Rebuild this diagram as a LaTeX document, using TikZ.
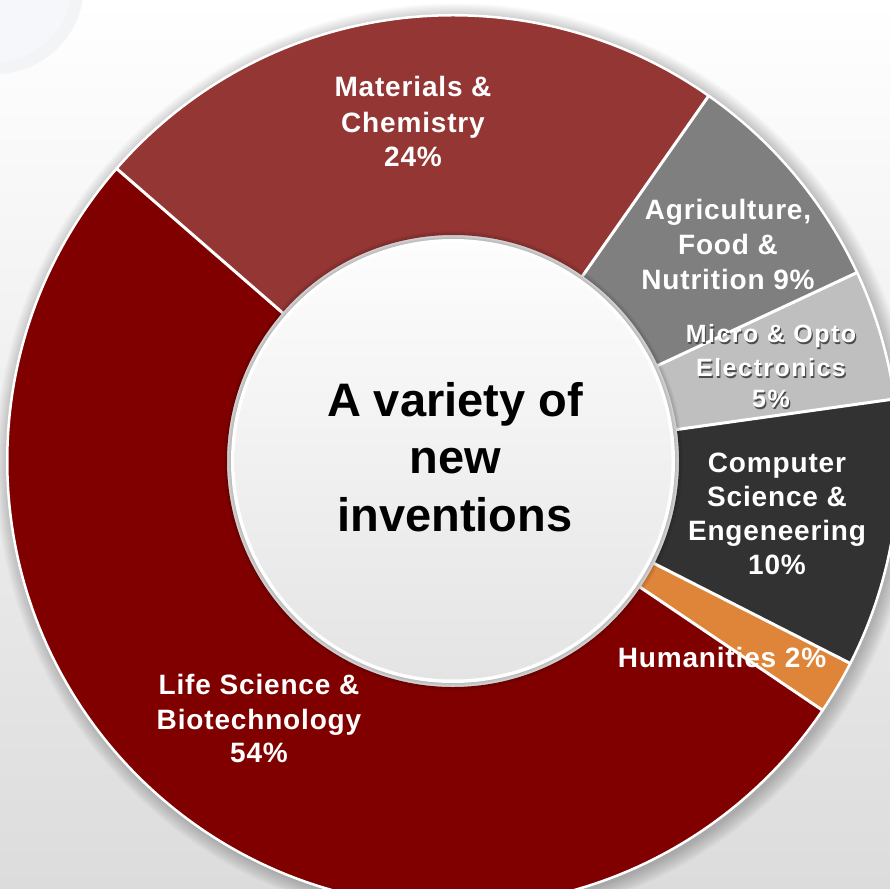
\documentclass[tikz,border=0pt]{standalone}
\usepackage{fontspec}
\setmainfont{Liberation Sans}
\definecolor{bgbot}{HTML}{DCDCDC}
\definecolor{bgmid}{HTML}{EFEFEF}
\definecolor{ringcol}{HTML}{F3F4F6}
\definecolor{ringin}{HTML}{F5F7FA}
\definecolor{matcol}{HTML}{943634}
\definecolor{lifecol}{HTML}{800000}
\definecolor{agrcol}{HTML}{7F7F7F}
\definecolor{miccol}{HTML}{BFBFBF}
\definecolor{compcol}{HTML}{323232}
\definecolor{humcol}{HTML}{DE8539}
\definecolor{disctop}{HTML}{FDFDFD}
\definecolor{discbot}{HTML}{E4E4E4}
\newcommand\donutseg[3]{\fill[#3] (#1:445) arc[start angle=#1, end angle=#2, radius=445] -- (#2:226) arc[start angle=#2, end angle=#1, radius=226] -- cycle;}
\begin{document}
\begin{tikzpicture}[x=1pt,y=1pt,
  lbl/.style={text=white, font=\bfseries\fontsize{28}{34}\selectfont\addfontfeature{LetterSpace=3}, inner sep=0pt, anchor=base},
  miclbl/.style={text=white, font=\bfseries\fontsize{25}{30}\selectfont\addfontfeature{LetterSpace=6}, inner sep=0pt, anchor=base},
  micshadow/.style={text=black!70, font=\bfseries\fontsize{25}{30}\selectfont\addfontfeature{LetterSpace=6}, inner sep=0pt, anchor=base},
  ctr/.style={text=black, font=\bfseries\fontsize{47}{57}\selectfont, inner sep=0pt, anchor=base},
  sep/.style={white, line width=3pt}]
\useasboundingbox (0,0) rectangle (890,888);
% background
\shade[top color=white, middle color=bgmid, bottom color=bgbot] (0,0) rectangle (890,888);
% faint decorative ring top-left
\fill[ringin] (-5,903) circle (77);
\draw[ringcol, line width=12pt] (-5,903) circle (83);
\begin{scope}[shift={(453,427)}]
  % outer shadow
  \foreach \i in {1,...,12} {\fill[black, opacity=0.018] (3,-3) circle ({445+\i*1.3});}
  \fill[white] (0,0) circle (447);
  % segments
  \donutseg{139}{326}{lifecol}
  \donutseg{55}{139}{matcol}
  \donutseg{25}{55}{agrcol}
  \donutseg{8}{25}{miccol}
  \donutseg{-27}{8}{compcol}
  \donutseg{-34}{-27}{humcol}
  \foreach \a in {139,55,25,8,-27,-34} {\draw[sep] (\a:224) -- (\a:447);}
  \draw[white, line width=2pt] (0,0) circle (445.5);
  % centre disc with shadow
  \foreach \i in {1,...,9} {\fill[black, opacity=0.035] (0,0) circle ({221+\i});}
  \fill[white] (0,0) circle (222);
  \shade[top color=disctop, bottom color=discbot] (0,0) circle (218.5);
\end{scope}
% centre text
\node[ctr] (c1) at (455,471) {A variety of};
\node[ctr] (c2) at (455,414) {new};
\node[ctr] (c3) at (455,356) {inventions};
% Materials
\node[lbl] (m1) at (413,791) {Materials \&};
\node[lbl] (m2) at (413,755) {Chemistry};
\node[lbl] (m3) at (413,721) {24\%};
% Agriculture
\node[lbl] (a1) at (728,668) {Agriculture,};
\node[lbl] (a2) at (728,633) {Food \&};
\node[lbl] (a3) at (728,598) {Nutrition 9\%};
% Micro
\node[micshadow] (ms1) at (772.2,543.8) {Micro \& Opto};
\node[micshadow] (ms2) at (772.2,509.8) {Electronics};
\node[micshadow] (ms3) at (772.2,478.8) {5\%};
\node[miclbl] (mi1) at (771,545) {Micro \& Opto};
\node[miclbl] (mi2) at (771,511) {Electronics};
\node[miclbl] (mi3) at (771,480) {5\%};
% Computer
\node[lbl] (k1) at (777,415) {Computer};
\node[lbl] (k2) at (777,381) {Science \&};
\node[lbl] (k3) at (777,347) {Engeneering};
\node[lbl] (k4) at (777,313) {10\%};
% Humanities
\node[lbl] (h1) at (722,220) {Humanities 2\%};
% Life science
\node[lbl] (l1) at (259,193) {Life Science \&};
\node[lbl] (l2) at (259,158) {Biotechnology};
\node[lbl] (l3) at (259,126) {54\%};
\end{tikzpicture}
\end{document}
